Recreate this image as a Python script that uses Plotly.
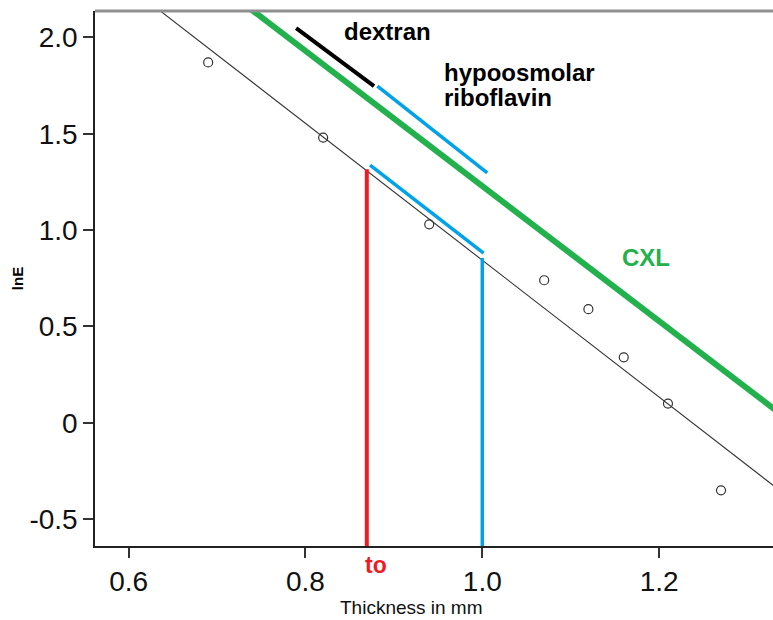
import plotly.graph_objects as go

# Observed data points (thickness in mm, lnE)
thickness = [0.69, 0.82, 0.94, 1.07, 1.12, 1.16, 1.21, 1.27]
lnE = [1.87, 1.48, 1.03, 0.74, 0.59, 0.34, 0.10, -0.35]

# Regression line endpoints
fit_x = [0.62, 1.34]
fit_y = [2.193, -0.363]

# CXL (green) line endpoints
cxl_x = [0.72, 1.34]
cxl_y = [2.210, 0.037]

# Dextran (black) segment
dex_x = [0.7895, 0.8776]
dex_y = [2.048, 1.747]

# Hypoosmolar riboflavin (blue) upper segment
hypo_x = [0.8814, 1.0056]
hypo_y = [1.747, 1.297]

# Blue lower segment
blue_lo_x = [0.8731, 1.0015]
blue_lo_y = [1.337, 0.881]

# Vertical markers
red_x = [0.8694, 0.8694]
red_y = [-0.70, 1.315]
blue_v_x = [1.0, 1.0]
blue_v_y = [-0.70, 0.855]

x_ticks = [0.6, 0.8, 1.0, 1.2]
x_ticktext = ["0.6", "0.8", "1.0", "1.2"]
y_ticks = [-0.5, 0, 0.5, 1.0, 1.5, 2.0]
y_ticktext = ["-0.5", "0", "0.5", "1.0", "1.5", "2.0"]

GREEN = "#22b14c"
BLUE = "#00a2e8"
RED = "#ed1c24"
FONT = "Liberation Sans, Arial, sans-serif"

fig = go.Figure()
fig.add_trace(go.Scatter(x=fit_x, y=fit_y, mode="lines",
                         line=dict(color="#333333", width=1.1)))
fig.add_trace(go.Scatter(x=thickness, y=lnE, mode="markers",
                         marker=dict(symbol="circle-open", size=9,
                                     color="#333333", line=dict(width=1.2))))
fig.add_trace(go.Scatter(x=cxl_x, y=cxl_y, mode="lines",
                         line=dict(color=GREEN, width=6)))
fig.add_trace(go.Scatter(x=dex_x, y=dex_y, mode="lines",
                         line=dict(color="black", width=4)))
fig.add_trace(go.Scatter(x=hypo_x, y=hypo_y, mode="lines",
                         line=dict(color=BLUE, width=3.5)))
fig.add_trace(go.Scatter(x=blue_lo_x, y=blue_lo_y, mode="lines",
                         line=dict(color=BLUE, width=3.5)))
fig.add_trace(go.Scatter(x=red_x, y=red_y, mode="lines",
                         line=dict(color=RED, width=4)))
fig.add_trace(go.Scatter(x=blue_v_x, y=blue_v_y, mode="lines",
                         line=dict(color=BLUE, width=3.5)))

annotations = [
    dict(x=0.8925, y=2.028, xref="x", yref="y", text="<b>dextran</b>",
         showarrow=False, font=dict(size=24, color="black", family=FONT),
         xanchor="center", yanchor="middle"),
    dict(x=0.954, y=1.817, xref="x", yref="y", text="<b>hypoosmolar</b>",
         showarrow=False, font=dict(size=24, color="black", family=FONT),
         xanchor="left", yanchor="middle"),
    dict(x=0.954, y=1.686, xref="x", yref="y", text="<b>riboflavin</b>",
         showarrow=False, font=dict(size=24, color="black", family=FONT),
         xanchor="left", yanchor="middle"),
    dict(x=1.185, y=0.860, xref="x", yref="y", text="<b>CXL</b>",
         showarrow=False, font=dict(size=24, color=GREEN, family=FONT),
         xanchor="center", yanchor="middle"),
    dict(x=0.8797, y=-0.036, xref="x", yref="paper", text="<b>to</b>",
         showarrow=False, font=dict(size=23, color=RED, family=FONT),
         xanchor="center", yanchor="middle"),
    dict(x=(411 - 95) / 678, y=-0.115, xref="paper", yref="paper",
         text="Thickness in mm", showarrow=False,
         font=dict(size=19, color="#111111", family=FONT),
         xanchor="center", yanchor="middle"),
    dict(x=-0.115, y=(545.7 - 279) / 534.7, xref="paper", yref="paper",
         text="<b>lnE</b>", showarrow=False, textangle=-90,
         font=dict(size=15, color="black", family=FONT),
         xanchor="center", yanchor="middle"),
]

fig.update_layout(
    width=773, height=620,
    margin=dict(l=95, r=0, t=11, b=74),
    paper_bgcolor="white", plot_bgcolor="white",
    showlegend=False,
    annotations=annotations,
    shapes=[dict(type="line", xref="paper", yref="paper", x0=0, x1=1,
                 y0=1, y1=1, line=dict(color="#8f8f8f", width=3))],
    xaxis=dict(range=[0.562, 1.3288], tickvals=x_ticks, ticktext=x_ticktext,
               showgrid=False, zeroline=False, showline=True,
               linecolor="#222222", linewidth=1.5, ticks="outside",
               ticklen=10, tickwidth=1.5, tickcolor="#333333",
               tickfont=dict(size=28, color="#111111", family=FONT)),
    yaxis=dict(range=[-0.6386, 2.1365], tickvals=y_ticks, ticktext=y_ticktext,
               showgrid=False, zeroline=False, showline=True,
               linecolor="#222222", linewidth=1.5, ticks="outside",
               ticklen=10, tickwidth=1.5, tickcolor="#333333",
               tickfont=dict(size=28, color="#111111", family=FONT)),
)

fig.write_html("out.html")
